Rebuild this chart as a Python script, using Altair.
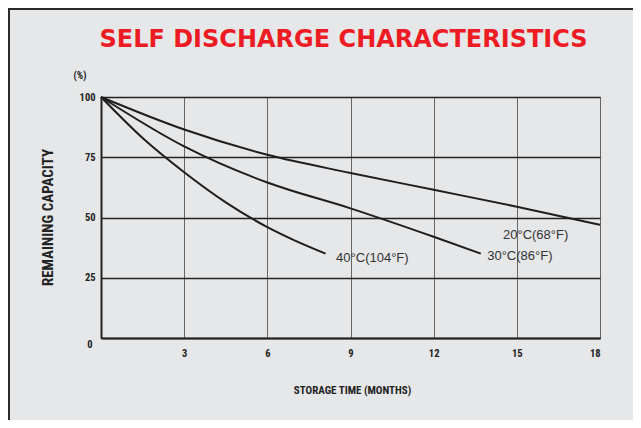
import altair as alt
import pandas as pd

# ---- data ----
months_20 = [0, 3, 6, 9, 12, 15, 18]
cap_20 = [100, 86.5, 76, 68.5, 61.5, 54.5, 47]
months_30 = [0, 3, 6, 9, 12, 13.7]
cap_30 = [100, 79.5, 64.5, 53.8, 42, 35]
months_40 = [0, 1.5, 3, 4.5, 6, 7, 8.1]
cap_40 = [100, 83, 68.8, 56.3, 46, 40.4, 35]

series_names = ["20°C(68°F)", "30°C(86°F)", "40°C(104°F)"]
label_month = [14.5, 13.93, 8.48]
label_cap = [42.7, 34.0, 33.2]

x_ticks = [3, 6, 9, 12, 15, 18]
y_ticks = [0, 25, 50, 75, 100]

title_text = "SELF DISCHARGE CHARACTERISTICS"
x_title = "STORAGE TIME (MONTHS)"
y_title = "REMAINING CAPACITY"
unit_text = "(%)"

rows = []
for name, ms, cs in zip(series_names, [months_20, months_30, months_40], [cap_20, cap_30, cap_40]):
    for m, c in zip(ms, cs):
        rows.append({"series": name, "month": m, "cap": c})
df = pd.DataFrame(rows)
lab = pd.DataFrame({"series": series_names, "month": label_month, "cap": label_cap})

W, H = 499, 241
PL, PT = 93, 89
TOTAL_W, TOTAL_H = 625, 412

cond_font = "Roboto Condensed, DejaVu Sans Condensed, sans-serif"

x_scale = alt.Scale(domain=[0, 18], nice=False)
y_scale = alt.Scale(domain=[0, 100], nice=False)

lines = alt.Chart(df).mark_line(color="#1e1e1e", strokeWidth=2, interpolate="monotone").encode(
    x=alt.X("month:Q", scale=x_scale, axis=alt.Axis(
        values=x_ticks, grid=True, gridColor="#666666", gridWidth=1,
        domainColor="#222222", domainWidth=2, ticks=False,
        labelFont=cond_font, labelFontWeight="bold", labelFontSize=10.5, labelColor="#222222",
        labelPadding=10, title=x_title, titleFont=cond_font, titleFontWeight="bold",
        titleFontSize=11, titleColor="#222222", titleX=251, titleY=52, titleBaseline="middle")),
    y=alt.Y("cap:Q", scale=y_scale, axis=alt.Axis(
        values=y_ticks, grid=True, gridColor="#222222", gridWidth=1.4,
        domainColor="#222222", domainWidth=2, ticks=False,
        labelFont=cond_font, labelFontWeight="bold", labelFontSize=10.5, labelColor="#222222",
        labelPadding={"condition": {"test": "datum.value == 0", "value": 9}, "value": 6},
        labelOffset={"condition": {"test": "datum.value == 0", "value": 6}, "value": 0},
        title=y_title, titleFont=cond_font, titleFontWeight="bold", titleFontSize=15,
        titleColor="#222222", titleAngle=-90, titleX=-54, titleY=120, titleBaseline="middle",
        titleAlign="center")),
    detail="series:N",
)

labels = alt.Chart(lab).mark_text(align="left", baseline="middle", font="Liberation Sans, Arial, sans-serif",
                                   fontSize=13, color="#333333").encode(
    x=alt.X("month:Q", scale=x_scale),
    y=alt.Y("cap:Q", scale=y_scale),
    text="series:N",
)

one = alt.Data(values=[{}])
title = alt.Chart(one).mark_text(align="center", baseline="alphabetic", font="DejaVu Sans",
                                 fontWeight="bold", fontSize=24, color="#ed1c24").encode(
    x=alt.value(242.5), y=alt.value(-50), text=alt.value(title_text))

unit = alt.Chart(one).mark_text(align="center", baseline="middle", font=cond_font,
                                fontWeight="bold", fontSize=10, color="#222222").encode(
    x=alt.value(-21), y=alt.value(-21), text=alt.value(unit_text))

border_left = alt.Chart(one).mark_rule(color="#2a2a2a", strokeWidth=2).encode(
    x=alt.value(-PL + 1), y=alt.value(-PT), y2=alt.value(TOTAL_H - PT))
border_top = alt.Chart(one).mark_rule(color="#2a2a2a", strokeWidth=2).encode(
    y=alt.value(-PT + 1), x=alt.value(-PL), x2=alt.value(TOTAL_W - PL))

chart = alt.layer(lines, labels, title, unit, border_left, border_top).properties(
    width=W, height=H,
    autosize=alt.AutoSizeParams(type="none"),
    padding={"left": PL, "top": PT, "right": TOTAL_W - PL - W, "bottom": TOTAL_H - PT - H},
).configure(background="#e6e7e9").configure_view(stroke="#666666", strokeWidth=1, fill=None)

chart.save("out.html", embed_options={"renderer": "svg", "actions": False})
